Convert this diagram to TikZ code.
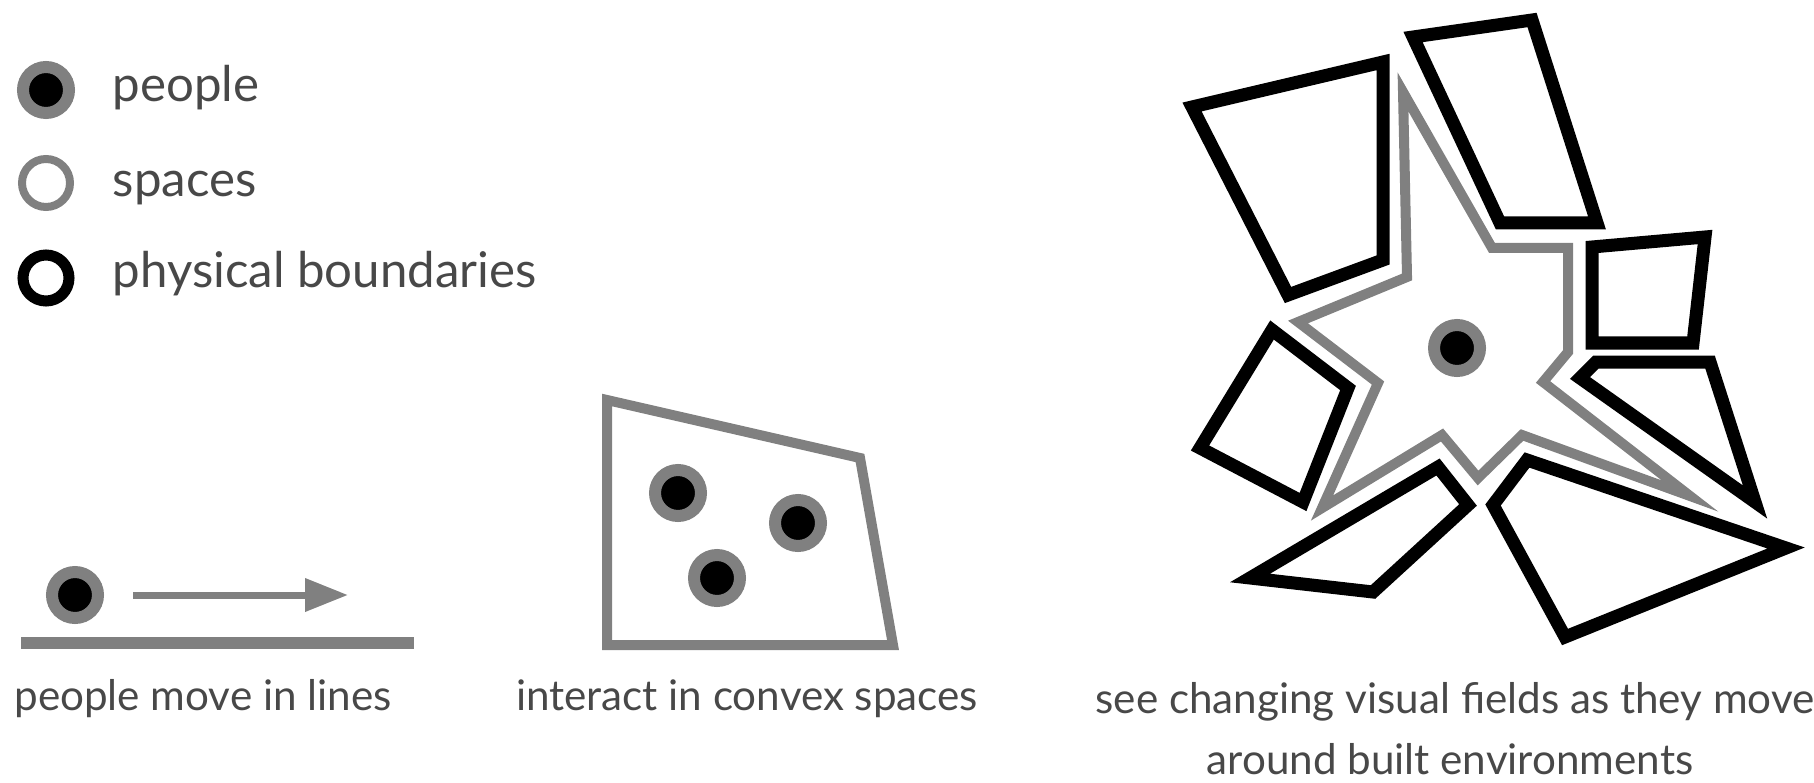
\documentclass[tikz,border=0pt]{standalone}
\usepackage{fontspec}
\setmainfont{Lato}
\usetikzlibrary{arrows.meta,positioning}
\definecolor{spacegray}{RGB}{128,128,128}
\definecolor{captext}{RGB}{72,72,72}
\tikzset{
  % a person: black dot in a grey halo
  person/.style={circle, inner sep=0pt, minimum size=0.46cm, fill=black,
    draw=spacegray, line width=0.12cm},
  % legend rings
  spacering/.style={circle, inner sep=0pt, minimum size=0.48cm,
    draw=spacegray, line width=0.08cm},
  wallring/.style={circle, inner sep=0pt, minimum size=0.46cm,
    draw=black, line width=0.11cm},
  % physical boundaries
  wallln/.style={draw=black, line width=0.13cm, line join=miter},
  % convex space / visual field outline
  fieldln/.style={draw=spacegray, line width=0.1cm, line join=miter},
  % movement along a line
  movearrow/.style={-{Triangle[length=0.43cm,width=0.32cm]}, line width=0.07cm, spacegray},
  groundln/.style={line width=0.12cm, spacegray},
  % texts
  legendtxt/.style={anchor=base west, inner sep=0pt, text=captext,
    font=\fontsize{14}{16}\selectfont},
  captxt/.style={anchor=base, inner sep=0pt, text=captext,
    font=\fontsize{12}{14}\selectfont},
}

\begin{document}
\begin{tikzpicture}
  \useasboundingbox (0,0) rectangle (18.14,7.82);
  % --- legend ---
  \node[person] (lgpeople) at (0.46,6.92) {};
  \node[spacering] (lgspace) at (0.46,5.99) {};
  \node[wallring] (lgwall) at (0.46,5.04) {};
  \node[legendtxt] (txpeople) at (1.12,6.80) {people};
  \node[legendtxt] (txspace) at (1.12,5.85) {spaces};
  \node[legendtxt] (txwall) at (1.12,4.94) {physical boundaries};
  % --- people move in lines ---
  \node[person] (walker) at (0.75,1.87) {};
  \coordinate (moveend) at (3.48,1.87);
  \draw[movearrow, shorten <=0.29cm] (walker.east) -- (moveend);
  \draw[groundln] (0.21,1.39) -- (4.14,1.39);
  \node[captxt] (caplines) at (2.03,0.72) {people move in lines};
  % --- interact in convex spaces ---
  \draw[fieldln] (6.07,3.82) -- (8.60,3.24) -- (8.93,1.37) -- (6.07,1.37) -- cycle;
  \node[person] (meetA) at (6.78,2.89) {};
  \node[person] (meetB) at (7.98,2.59) {};
  \node[person] (meetC) at (7.17,2.04) {};
  \node[captxt] (capconvex) at (7.47,0.72) {interact in convex spaces};
  % --- visual field among buildings ---
  \draw[fieldln] (14.03,6.90) -- (14.92,5.34) -- (15.68,5.34) -- (15.68,4.30)
    -- (15.43,4.00) -- (16.90,2.86) -- (15.22,3.47) -- (14.78,3.04)
    -- (14.42,3.47) -- (13.22,2.74) -- (13.78,3.99) -- (12.98,4.60)
    -- (14.07,5.05) -- cycle;
  \draw[wallln] (11.92,6.75) -- (13.83,7.20) -- (13.83,5.22) -- (12.88,4.87) -- cycle;
  \draw[wallln] (14.13,7.45) -- (15.32,7.62) -- (15.97,5.59) -- (15.00,5.59) -- cycle;
  \draw[wallln] (15.92,5.35) -- (17.05,5.45) -- (16.93,4.39) -- (15.92,4.39) -- cycle;
  \draw[wallln] (15.80,4.04) -- (15.96,4.20) -- (17.10,4.20) -- (17.55,2.80) -- cycle;
  \draw[wallln] (14.93,2.77) -- (15.27,3.22) -- (17.86,2.34) -- (15.65,1.45) -- cycle;
  \draw[wallln] (12.72,4.52) -- (13.48,3.94) -- (13.03,2.80) -- (12.00,3.34) -- cycle;
  \draw[wallln] (14.38,3.15) -- (14.68,2.77) -- (13.73,1.90) -- (12.50,2.04) -- cycle;
  \node[person] (viewer) at (14.57,4.34) {};
  \node[captxt] (capfieldA) at (14.55,0.69) {see changing visual fields as they move};
  \node[captxt] (capfieldB) at (14.50,0.08) {around built environments};
\end{tikzpicture}
\end{document}
